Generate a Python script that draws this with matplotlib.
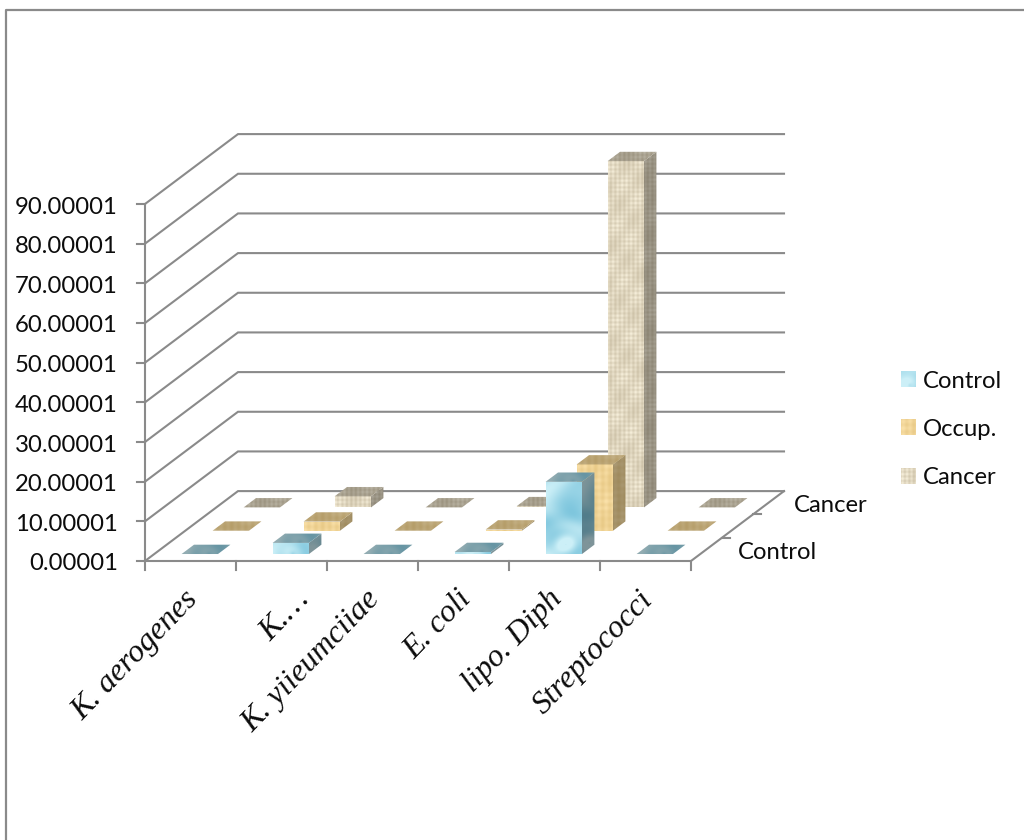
import numpy as np
import matplotlib
matplotlib.use("Agg")
import matplotlib.pyplot as plt
from matplotlib.patches import Polygon

categories = ["K. aerogenes", "K.\u2026", "K. yiieumciiae", "E. coli", "lipo. Diph", "Streptococci"]
series_names = ["Control", "Occup.", "Cancer"]
control = [0.0, 2.8, 0.0, 0.5, 18.2, 0.0]
occup = [0.0, 2.3, 0.0, 0.3, 16.7, 0.0]
cancer = [0.0, 2.8, 0.0, 0.3, 87.3, 0.0]
y_ticks = [0, 10, 20, 30, 40, 50, 60, 70, 80, 90]
y_tick_labels = ["0.00001", "10.00001", "20.00001", "30.00001", "40.00001",
                 "50.00001", "60.00001", "70.00001", "80.00001", "90.00001"]
depth_labels = ["Control", "Cancer"]

# Oblique projection of (category, series, value) onto the page, in pixels
ORIGIN = (145.0, 561.0)
CAT_W = 91.0
DEPTH_X, DEPTH_Y = 31.0, -23.3
UNIT_Y = 357.0 / 90.0
BAR = 0.40
GRID = "#8a8a8a"
INK = "#0c0c0c"
SANS = "Lato"
SANS_SIZE = 17.2
# The abbreviated label sits further right along its tick
LABEL_SHIFT = [0, 20, 0, 0, 0, 0]


def project(c, s, v):
    return (ORIGIN[0] + c * CAT_W + s * DEPTH_X,
            ORIGIN[1] + s * DEPTH_Y - v * UNIT_Y)


def water(h, w):
    yy, xx = np.mgrid[0:h, 0:w].astype(float)
    a = (np.sin(xx / 7.0 + np.sin(yy / 11.0) * 2.0) + np.sin(yy / 9.0 + xx / 19.0)
         + np.sin((xx + yy) / 13.0 + 1.0))
    r = np.hypot(xx - w * 0.55, (yy - h * 0.85) * 1.2)
    rings = np.sin(r / 3.2) * np.exp(-r / 16.0)
    return np.clip(0.55 + a / 6.5 + 0.35 * rings - 0.18 * (xx / max(w, 1)), 0, 1)


def woven(h, w, pitch):
    yy, xx = np.mgrid[0:h, 0:w].astype(float)
    warp = np.sin(xx * 2 * np.pi / pitch)
    weft = np.sin(yy * 2 * np.pi / pitch)
    drift = np.sin(xx / 5.3 + 1.0 + yy / 31.0) * np.sin(yy / 6.1 + xx / 17.0)
    return np.clip(0.62 + 0.14 * warp + 0.14 * weft * (0.6 + 0.4 * drift) + 0.14 * drift, 0, 1)


# Per-series material: a texture blended between two tones, plus face shading
STYLES = {
    0: dict(tex=water, dark=(0.50, 0.78, 0.87), light=(0.80, 0.94, 0.97), top=0.72, side=0.62),
    1: dict(tex=lambda h, w: woven(h, w, 7.0), dark=(0.88, 0.75, 0.47), light=(0.98, 0.88, 0.66),
            top=0.78, side=0.68),
    2: dict(tex=lambda h, w: woven(h, w, 4.5), dark=(0.74, 0.69, 0.58), light=(0.96, 0.93, 0.85),
            top=0.76, side=0.68),
}


def textured(ax, poly, style, zorder, shade=1.0):
    pts = np.array(poly)
    x0, y0 = np.floor(pts.min(axis=0))
    x1, y1 = np.ceil(pts.max(axis=0))
    w, h = max(int(x1 - x0), 1), max(int(y1 - y0), 1)
    t = style["tex"](h, w)[..., None]
    img = (np.array(style["dark"]) * (1 - t) + np.array(style["light"]) * t) * shade
    im = ax.imshow(img, extent=(x0, x1, y1, y0), aspect="auto", zorder=zorder,
                   interpolation="bilinear")
    clip = Polygon(poly, closed=True, transform=ax.transData)
    im.set_clip_path(clip)


def draw_bar(ax, c, s, v, style, zorder):
    lo_c, hi_c = c + 0.5 - BAR / 2, c + 0.5 + BAR / 2
    lo_s, hi_s = s + 0.5 - BAR / 2, s + 0.5 + BAR / 2
    f_bl, f_br = project(lo_c, lo_s, 0), project(hi_c, lo_s, 0)
    f_tl, f_tr = project(lo_c, lo_s, v), project(hi_c, lo_s, v)
    b_tl, b_tr = project(lo_c, hi_s, v), project(hi_c, hi_s, v)
    b_br = project(hi_c, hi_s, 0)
    if v > 0.2:
        textured(ax, [f_br, f_tr, b_tr, b_br], style, zorder, style["side"])
        textured(ax, [f_bl, f_br, f_tr, f_tl], style, zorder)
    textured(ax, [f_tl, f_tr, b_tr, b_tl], style, zorder + 0.1, style["top"])


fig = plt.figure(figsize=(10.24, 8.4), dpi=100, facecolor="white")
ax = fig.add_axes([0, 0, 1, 1])
ax.set_axis_off()

# Chart frame: only the top and left edges fall on the page
ax.plot([6, 6, 1024], [840, 10, 10], color=GRID, lw=1.6, zorder=1)

n_cat, n_ser = len(categories), len(series_names)

# Wall gridlines
for v, label in zip(y_ticks, y_tick_labels):
    p0 = project(0, 0, v)
    p1 = project(0, n_ser, v)
    p2 = project(n_cat, n_ser, v)
    ax.plot([p0[0], p1[0], p2[0]], [p0[1], p1[1], p2[1]], color=GRID, lw=1.5, zorder=2,
            solid_joinstyle="miter")
    ax.plot([p0[0] - 8, p0[0]], [p0[1], p0[1]], color=GRID, lw=1.5, zorder=2)
    ax.text(p0[0] - 27, p0[1] + 3, label, ha="right", va="center",
            fontsize=SANS_SIZE, family=SANS, color=INK)

# Value axis and floor edges
top = project(0, 0, y_ticks[-1])
ax.plot([ORIGIN[0], top[0]], [ORIGIN[1], top[1]], color=GRID, lw=1.5, zorder=2)
fr = project(n_cat, 0, 0)
br = project(n_cat, n_ser, 0)
ax.plot([ORIGIN[0], fr[0], br[0]], [ORIGIN[1], fr[1], br[1]], color=GRID, lw=1.5, zorder=2)

# Category ticks and rotated labels
for c in range(n_cat + 1):
    x, y = project(c, 0, 0)
    ax.plot([x, x], [y, y + 9], color=GRID, lw=1.5, zorder=2)
for c, name in enumerate(categories):
    x, y = project(c + 0.5, 0, 0)
    ax.text(x - 7 + LABEL_SHIFT[c], y + 24, name, rotation=46, rotation_mode="anchor",
            ha="right", va="top", fontsize=23, family="Liberation Serif", style="italic",
            color=INK)

# Series ticks along the right floor edge
for s in range(1, n_ser):
    x, y = project(n_cat, s, 0)
    ax.plot([x, x + 8], [y, y], color=GRID, lw=1.5, zorder=2)
for s, name, dx in zip([0, 2], depth_labels, [31, 25]):
    x, y = project(n_cat, s + 0.5, 0)
    ax.text(x + dx, y + 3, name, ha="left", va="center", fontsize=SANS_SIZE, family=SANS,
            color=INK)

# Bars, painted from the back row to the front row
rows = [control, occup, cancer]
for s in reversed(range(n_ser)):
    for c, v in enumerate(rows[s]):
        draw_bar(ax, c, s, v, STYLES[s], zorder=10 + (n_ser - s) * 2)

# Legend
for i, name in enumerate(series_names):
    yc = [379, 427, 476][i]
    textured(ax, [(901, yc - 8), (916, yc - 8), (916, yc + 8), (901, yc + 8)], STYLES[i], 5)
    ax.text(923, yc + 2, name, ha="left", va="center", fontsize=SANS_SIZE, family=SANS, color=INK)

ax.set_xlim(0, 1024)
ax.set_ylim(840, 0)
fig.savefig("out.png", dpi=100)
